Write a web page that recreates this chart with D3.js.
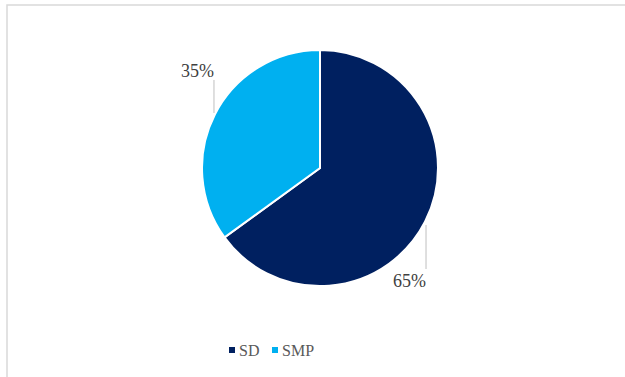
<!DOCTYPE html>
<html>
<head>
<meta charset="utf-8">
<script src="https://cdn.jsdelivr.net/npm/d3@7"></script>
<style>
  body { margin: 0; background: #fff; }
  svg { display: block; }
  text { font-family: "Liberation Serif", "Times New Roman", serif; }
</style>
</head>
<body>
<svg id="chart"></svg>
<script>
// Data
const categories = ["SD", "SMP"];
const values = [65, 35];
const colors = ["#002060", "#00B0F0"];

const svgWidth = 625;
const svgHeight = 377;
const cx = 320, cy = 168, radius = 118;

const svg = d3.select("#chart")
    .attr("width", svgWidth)
    .attr("height", svgHeight);

// chart border (right/bottom edges fall outside the window)
svg.append("rect")
    .attr("x", 7)
    .attr("y", 5)
    .attr("width", svgWidth + 20)
    .attr("height", svgHeight + 20)
    .attr("fill", "#fff")
    .attr("stroke", "#d9d9d9")
    .attr("stroke-width", 1.5);

const data = categories.map((c, i) => ({ name: c, value: values[i], color: colors[i] }));

const pie = d3.pie()
    .sort(null)
    .value(d => d.value);

const arc = d3.arc()
    .innerRadius(0)
    .outerRadius(radius);

const g = svg.append("g")
    .attr("transform", `translate(${cx},${cy})`);

const arcs = pie(data);

g.selectAll("path")
    .data(arcs)
    .enter()
    .append("path")
    .attr("d", arc)
    .attr("fill", d => d.data.color)
    .attr("stroke", "#fff")
    .attr("stroke-width", 2);

// labels with vertical leader lines
const total = d3.sum(values);
arcs.forEach(d => {
    const mid = (d.startAngle + d.endAngle) / 2;
    const px = (radius + 1) * Math.sin(mid);
    const py = -(radius + 1) * Math.cos(mid);
    const down = py > 0;
    const y1 = py + (down ? 3 : -1);
    const y2 = down ? py + 47 : py - 34;

    g.append("line")
        .attr("x1", px).attr("x2", px)
        .attr("y1", y1).attr("y2", y2)
        .attr("stroke", "#bfbfbf")
        .attr("stroke-width", 1);

    g.append("text")
        .attr("x", px)
        .attr("y", down ? y2 + 18 : y2 - 3)
        .attr("text-anchor", "end")
        .attr("font-size", 18)
        .attr("fill", "#404040")
        .text(Math.round(d.data.value / total * 100) + "%");
});

// legend
const legend = svg.append("g")
    .attr("transform", "translate(229,356)");

const legendX = [0, 43];
data.forEach((d, i) => {
    const item = legend.append("g")
        .attr("transform", `translate(${legendX[i]},0)`);
    item.append("rect")
        .attr("x", 0)
        .attr("y", -9)
        .attr("width", 6)
        .attr("height", 6)
        .attr("fill", d.color);
    item.append("text")
        .attr("x", 10)
        .attr("y", 0)
        .attr("font-size", 16)
        .attr("fill", "#595959")
        .text(d.name);
});
</script>
</body>
</html>
